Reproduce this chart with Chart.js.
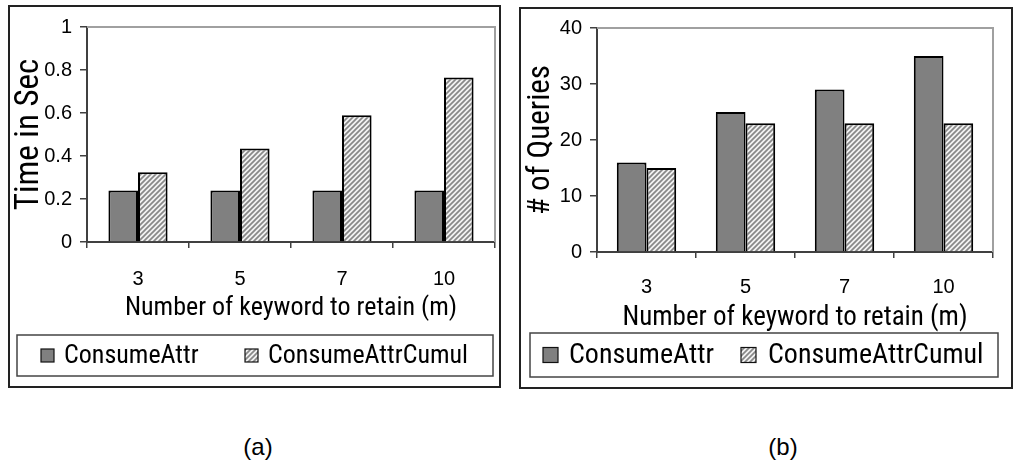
<!DOCTYPE html>
<html>
<head>
<meta charset="utf-8">
<script src="https://cdn.jsdelivr.net/npm/chart.js@4"></script>
<style>
  html,body{margin:0;padding:0;background:#fff;}
  body{position:relative;width:1014px;height:462px;overflow:hidden;}
  .panel{position:absolute;border:2px solid #222;box-sizing:border-box;}
  canvas{position:absolute;top:0;}
  .cap{position:absolute;font-family:'Liberation Sans',Arial,sans-serif;font-size:24px;color:#000;transform:translate(-50%,-50%);}
</style>
</head>
<body>
<div class="panel" style="left:8px;top:5px;width:493px;height:383px;"></div>
<div class="panel" style="left:519px;top:7px;width:494px;height:382px;"></div>
<canvas id="chartA" width="507" height="400" style="left:0px;"></canvas>
<canvas id="chartB" width="507" height="400" style="left:507px;"></canvas>
<div class="cap" style="left:258px;top:447px;">(a)</div>
<div class="cap" style="left:783px;top:447px;">(b)</div>
<script>
// ---- data ----
const categories = ['3', '5', '7', '10'];
const seriesNames = ['ConsumeAttr', 'ConsumeAttrCumul'];
const timeConsumeAttr = [0.24, 0.24, 0.24, 0.24];
const timeConsumeAttrCumul = [0.325, 0.435, 0.59, 0.765];
const queriesConsumeAttr = [16, 25, 29, 35];
const queriesConsumeAttrCumul = [15, 23, 23, 23];
const timeTicks = [0, 0.2, 0.4, 0.6, 0.8, 1];
const queryTicks = [0, 10, 20, 30, 40];
const xTitle = 'Number of keyword to retain (m)';
const yTitleA = 'Time in Sec';
const yTitleB = '# of Queries';

const FONT = "'Roboto Condensed','Liberation Sans',Arial,sans-serif";
const TICKFONT = "'Liberation Sans',Arial,sans-serif";

function makeHatch(ctx) {
  const c = document.createElement('canvas');
  c.width = 5; c.height = 5;
  const g = c.getContext('2d');
  g.fillStyle = '#f2f2f2'; g.fillRect(0, 0, 5, 5);
  g.strokeStyle = '#888'; g.lineWidth = 1.7;
  g.beginPath();
  g.moveTo(0, 5); g.lineTo(5, 0);
  g.moveTo(-2.5, 2.5); g.lineTo(2.5, -2.5);
  g.moveTo(2.5, 7.5); g.lineTo(7.5, 2.5);
  g.stroke();
  return ctx.createPattern(c, 'repeat');
}

const frame = {
  id: 'frame',
  beforeDatasetsDraw(chart) {
    const {ctx, chartArea: a} = chart;
    ctx.save();
    ctx.strokeStyle = '#a0a0a0'; ctx.lineWidth = 2;
    ctx.beginPath();
    ctx.moveTo(a.left, a.top); ctx.lineTo(a.right, a.top); ctx.lineTo(a.right, a.bottom);
    ctx.stroke();
    ctx.restore();
  }
};

const boxLegend = {
  id: 'boxLegend',
  afterDraw(chart, args, o) {
    const ctx = chart.ctx;
    ctx.save();
    ctx.strokeStyle = '#444'; ctx.lineWidth = 1.5;
    ctx.strokeRect(o.box[0], o.box[1], o.box[2] - o.box[0], o.box[3] - o.box[1]);
    const cy = (o.box[1] + o.box[3]) / 2;
    ctx.font = o.fontSize + 'px ' + FONT;
    ctx.textBaseline = 'middle';
    chart.data.datasets.forEach((ds, i) => {
      const sx = o.swatchX[i], s = o.swatch;
      ctx.fillStyle = ds.backgroundColor;
      ctx.fillRect(sx, cy - s / 2, s, s);
      ctx.strokeStyle = '#111'; ctx.lineWidth = 1.2;
      ctx.strokeRect(sx, cy - s / 2, s, s);
      ctx.fillStyle = '#000';
      ctx.fillText(ds.label, o.textX[i], cy + 1);
    });
    ctx.restore();
  }
};

function makeChart(id, d1, d2, ticks, max, yTitle, L) {
  const ctx = document.getElementById(id).getContext('2d');
  return new Chart(ctx, {
    type: 'bar',
    data: {
      labels: categories,
      datasets: [
        {label: seriesNames[0], data: d1, backgroundColor: '#808080', borderColor: '#000', borderWidth: 2,
         categoryPercentage: L.cat, barPercentage: 1},
        {label: seriesNames[1], data: d2, backgroundColor: makeHatch(ctx), borderColor: '#000', borderWidth: 2,
         categoryPercentage: L.cat, barPercentage: 1}
      ]
    },
    options: {
      responsive: false,
      animation: false,
      events: [],
      layout: {padding: L.padding},
      plugins: {
        legend: {display: false},
        tooltip: {enabled: false},
        boxLegend: L.legend
      },
      scales: {
        x: {
          type: 'category',
          offset: true,
          afterFit(s) { s.height = L.xHeight; },
          grid: {display: true, drawOnChartArea: false, drawTicks: true, tickLength: 6, offset: true,
                 color: '#404040', lineWidth: 1.5},
          border: {display: true, color: '#404040', width: 2},
          ticks: {color: '#000', padding: L.xTickPad, font: {family: TICKFONT, size: 20}, maxRotation: 0},
          title: {display: true, text: xTitle, color: '#000', font: {family: FONT, size: L.xTitleSize},
                  padding: {top: 0, bottom: L.xTitlePad}}
        },
        y: {
          min: 0, max: max,
          afterFit(s) { s.width = L.yWidth; },
          afterBuildTicks(s) { s.ticks = ticks.map(v => ({value: v})); },
          grid: {display: true, drawOnChartArea: false, drawTicks: true, tickLength: 7,
                 color: '#404040', lineWidth: 1.5},
          border: {display: true, color: '#404040', width: 2},
          ticks: {color: '#000', padding: 8, font: {family: TICKFONT, size: 20},
                  callback: v => String(+(+v).toFixed(2))},
          title: {display: true, text: yTitle, color: '#000', font: {family: FONT, size: L.yTitleSize},
                  padding: {top: L.yTitlePad, bottom: 0}}
        }
      }
    },
    plugins: [frame, boxLegend]
  });
}

document.fonts.load("20px 'Roboto Condensed'").finally(() => {
  makeChart('chartA', timeConsumeAttr, timeConsumeAttrCumul, timeTicks, 1, yTitleA, {
    cat: 0.58,
    padding: {left: 4, top: 27, right: 12, bottom: 73},
    xHeight: 85, yWidth: 83,
    xTickPad: 19, xTitleSize: 26, xTitlePad: 3,
    yTitleSize: 33, yTitlePad: 6,
    legend: {box: [17, 335, 493, 376], swatch: 13, swatchX: [41, 245], textX: [64, 268], fontSize: 26}
  });
  makeChart('chartB', queriesConsumeAttr, queriesConsumeAttrCumul, queryTicks, 40, yTitleB, {
    cat: 0.6,
    padding: {left: 5, top: 28, right: 21, bottom: 63},
    xHeight: 85, yWidth: 85,
    xTickPad: 17, xTitleSize: 27, xTitlePad: 3,
    yTitleSize: 31, yTitlePad: 11,
    legend: {box: [23, 333, 491, 377], swatch: 15, swatchX: [36, 234], textX: [62, 261], fontSize: 28}
  });
});
</script>
</body>
</html>
